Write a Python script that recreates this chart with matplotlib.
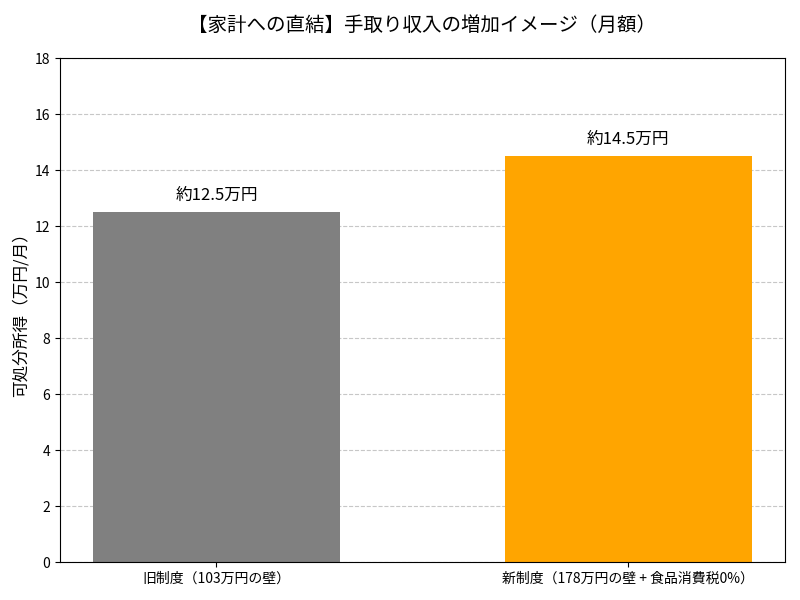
import matplotlib
matplotlib.use("Agg")
from matplotlib import pyplot as plt

plt.rcParams['font.family'] = ['Noto Sans CJK JP', 'DejaVu Sans']

categories = ["旧制度（103万円の壁）", "新制度（178万円の壁 + 食品消費税0%）"]
values = [12.5, 14.5]
labels = ["約12.5万円", "約14.5万円"]
colors = ["gray", "orange"]

fig, ax = plt.subplots(figsize=(8, 6), dpi=100)
bars = ax.bar(categories, values, color=colors, width=0.6)

for bar, text in zip(bars, labels):
    ax.text(bar.get_x() + bar.get_width() / 2, bar.get_height() + 0.3, text,
            ha="center", va="bottom", fontsize=12)

ax.set_title("【家計への直結】手取り収入の増加イメージ（月額）", fontsize=14, pad=20)
ax.set_ylabel("可処分所得（万円/月）", fontsize=12)
ax.set_ylim(0, 18)
ax.grid(axis="y", linestyle="--", alpha=0.7)
ax.set_axisbelow(True)

fig.subplots_adjust(left=0.075, right=0.981, top=0.903, bottom=0.063)
plt.savefig("out.png", dpi=100)
